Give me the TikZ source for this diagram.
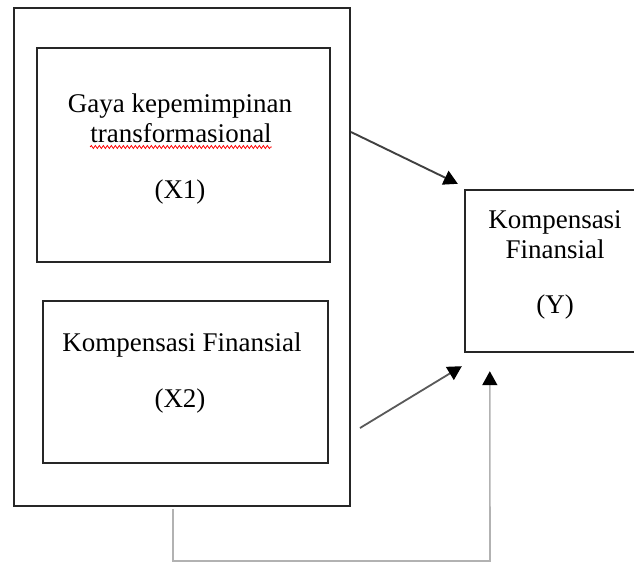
\documentclass[tikz,border=0pt]{standalone}
\usepackage{fontspec}
\setmainfont{Liberation Serif}
\usetikzlibrary{arrows.meta,decorations.pathmorphing}
\begin{document}
\begin{tikzpicture}[x=1pt,y=-1pt,
  boxline/.style={draw=black!85,line width=2.4pt,inner sep=0pt,line join=miter},
  txt/.style={anchor=base,inner sep=0pt,text=black,font=\fontsize{27}{30}\selectfont},
  tip/.style={-{Triangle[length=14pt,width=15pt,color=black]}},
]
\useasboundingbox[fill=white] (0,0) rectangle (634,563);
% boxes
\node[boxline,minimum width=336pt,minimum height=498pt] (outer) at (182,257) {};
\node[boxline,minimum width=293pt,minimum height=214pt] (x1) at (183.5,155) {};
\node[boxline,minimum width=285pt,minimum height=162pt] (x2) at (185.5,382) {};
\node[inner sep=0pt,minimum width=169pt,minimum height=162pt] (y) at (549.5,271) {};
\draw[draw=black!85,line width=2.4pt] (y.north east) -- (y.north west) -- (y.south west) -- (y.south east);
% texts
\node[txt] (t1) at (180,112) {Gaya kepemimpinan};
\node[txt] (t2) at (181,142) {transformasional};
\node[txt] (t3) at (180,198) {(X1)};
\node[txt] (t4) at (182,351) {Kompensasi Finansial};
\node[txt] (t5) at (180,407) {(X2)};
\node[txt] (t6) at (555,228) {Kompensasi};
\node[txt] (t7) at (555,258) {Finansial};
\node[txt] (t8) at (555,313) {(Y)};
\draw[red,line width=0.8pt,decorate,decoration={snake,amplitude=1.5pt,segment length=4pt}]
  ([yshift=-5pt]t2.base west) -- ([yshift=-5pt]t2.base east);
% connectors
\coordinate (a1) at (351,132);
\coordinate (a2) at (360,428);
\coordinate (a3) at (173,509);
\draw[tip,line width=1.9pt,draw=black!75] (a1) -- ([shift={(-7,-6)}]y.north west);
\draw[tip,line width=1.8pt,draw=black!65] (a2) -- ([shift={(-3,14)}]y.south west);
\draw[tip,line width=1.6pt,draw=black!30] (a3) |- (490,561) -- ([shift={(25,19)}]y.south west);
\end{tikzpicture}
\end{document}
